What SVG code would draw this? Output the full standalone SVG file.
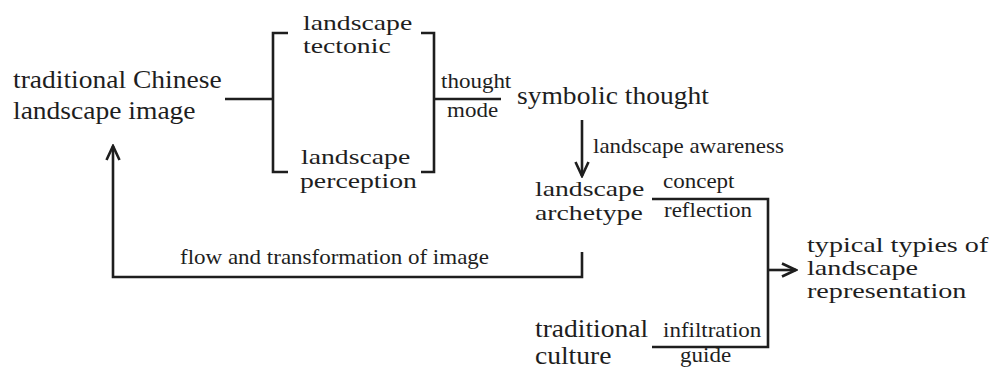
<svg xmlns="http://www.w3.org/2000/svg" width="992" height="372" viewBox="0 0 992 372">
  <style>
    text { font-family: 'Liberation Serif', 'Times New Roman', serif; fill: #1e1e1e; }
    .big { font-size: 25.5px; }
    .tight { font-size: 22px; }
    .small { font-size: 20px; }
    .wire { fill: none; stroke: #1e1e1e; stroke-width: 2.6; stroke-linecap: butt; stroke-linejoin: miter; }
  </style>
  <defs>
    <marker id="head" viewBox="-18 -9 20 18" markerWidth="20" markerHeight="18" refX="0" refY="0" orient="auto" markerUnits="userSpaceOnUse">
      <path d="M-14,-6.5 L0,0 L-14,6.5" fill="none" stroke="#1e1e1e" stroke-width="2.6"/>
    </marker>
  </defs>
  <rect width="992" height="372" fill="#ffffff"/>

  <!-- connectors and their labels (labels are drawn slightly widened) -->
  <g id="connectors">
    <path class="wire" d="M225,99 H273"/>
    <path class="wire" d="M288,33 H273 V172 H288"/>
    <path class="wire" d="M421,33 H434 V172 H421"/>
    <path class="wire" d="M434,99 H501"/>
    <path class="wire" d="M582,120 V176" marker-end="url(#head)"/>
    <path class="wire" d="M652,199 H768 V347 H652"/>
    <path class="wire" d="M768,270 H796" marker-end="url(#head)"/>
    <path class="wire" d="M582,252 V277 H113 V146" marker-end="url(#head)"/>

    <text class="small" transform="translate(441,88) scale(1.15,1)">thought</text>
    <text class="small" transform="translate(447,117) scale(1.15,1)">mode</text>
    <text class="small" transform="translate(593,153) scale(1.15,1)">landscape awareness</text>
    <text class="small" transform="translate(663,188) scale(1.15,1)">concept</text>
    <text class="small" transform="translate(664,217) scale(1.15,1)">reflection</text>
    <text class="small" transform="translate(663,337) scale(1.15,1)">infiltration</text>
    <text class="small" transform="translate(680,362) scale(1.15,1)">guide</text>
    <text class="small" transform="translate(180,264) scale(1.15,1)">flow and transformation of image</text>
  </g>

  <!-- nodes -->
  <g id="image">
    <text class="big" transform="translate(13,88) scale(1.08,1)">traditional Chinese</text>
    <text class="big" transform="translate(13,119) scale(1.08,1)">landscape image</text>
  </g>
  <g id="tectonic">
    <text class="tight" transform="translate(303,30) scale(1.26,1)">landscape</text>
    <text class="tight" transform="translate(303,53) scale(1.26,1)">tectonic</text>
  </g>
  <g id="perception">
    <text class="tight" transform="translate(301,164) scale(1.26,1)">landscape</text>
    <text class="tight" transform="translate(300,188) scale(1.26,1)">perception</text>
  </g>
  <g id="symbolic">
    <text class="big" transform="translate(517,104) scale(1.08,1)">symbolic thought</text>
  </g>
  <g id="archetype">
    <text class="tight" transform="translate(535,196) scale(1.26,1)">landscape</text>
    <text class="tight" transform="translate(535,220) scale(1.26,1)">archetype</text>
  </g>
  <g id="culture">
    <text class="big" transform="translate(535,337) scale(1.08,1)">traditional</text>
    <text class="big" transform="translate(535,364) scale(1.08,1)">culture</text>
  </g>
  <g id="typical">
    <text class="tight" transform="translate(807,252) scale(1.28,1)">typical typies of</text>
    <text class="tight" transform="translate(807,275) scale(1.28,1)">landscape</text>
    <text class="tight" transform="translate(807,298) scale(1.28,1)">representation</text>
  </g>
</svg>
